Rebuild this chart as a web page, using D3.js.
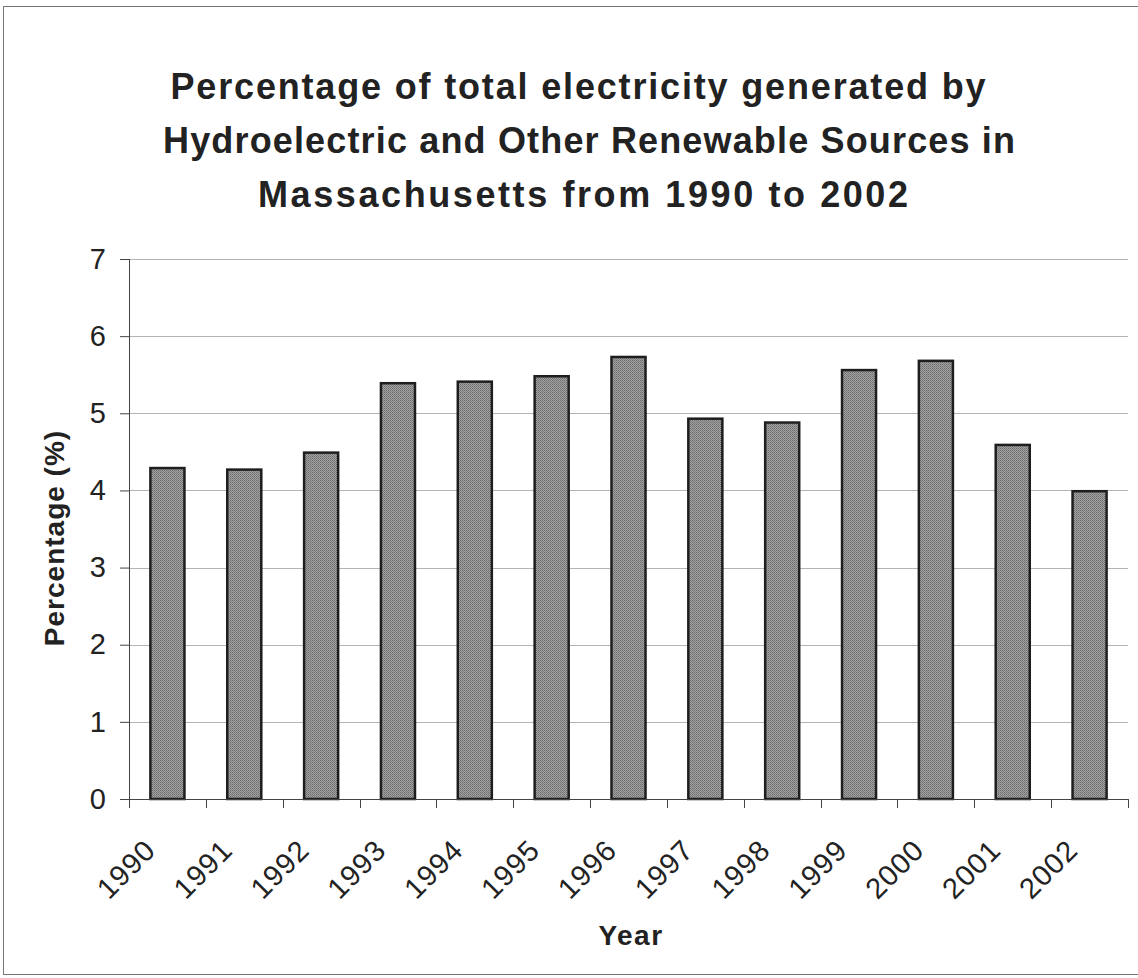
<!DOCTYPE html>
<html>
<head>
<meta charset="utf-8">
<script src="https://cdn.jsdelivr.net/npm/d3@7"></script>
<style>
  html, body { margin: 0; padding: 0; background: #fff; }
  svg { display: block; }
  text { font-family: "Liberation Sans", Arial, sans-serif; fill: #222; }
</style>
</head>
<body>
<script>
// Share of Massachusetts electricity from hydroelectric and other renewables
const years = ["1990", "1991", "1992", "1993", "1994", "1995", "1996",
               "1997", "1998", "1999", "2000", "2001", "2002"];
const percentages = [4.29, 4.27, 4.49, 5.39, 5.41, 5.48, 5.73,
                     4.93, 4.88, 5.56, 5.68, 4.59, 3.99];
const yTicks = [0, 1, 2, 3, 4, 5, 6, 7];
const titleLines = [
  "Percentage of total electricity generated by",
  "Hydroelectric and Other Renewable Sources in",
  "Massachusetts from 1990 to 2002"
];

const W = 1138, H = 978;
const plot = { left: 129, right: 1128, top: 259, bottom: 799 };

const svg = d3.select("body").append("svg")
  .attr("width", W).attr("height", H);

// stippled grey fill for the bars
const defs = svg.append("defs");
const pat = defs.append("pattern")
  .attr("id", "stipple").attr("patternUnits", "userSpaceOnUse")
  .attr("width", 2).attr("height", 2);
pat.append("rect").attr("width", 2).attr("height", 2).attr("fill", "#a2a2a2");
pat.append("rect").attr("width", 1).attr("height", 1).attr("fill", "#6c6c6c");
pat.append("rect").attr("x", 1).attr("y", 1).attr("width", 1).attr("height", 1).attr("fill", "#7e7e7e");

// outer chart border
svg.append("rect")
  .attr("x", 3.5).attr("y", 6.5).attr("width", W).attr("height", 968)
  .attr("fill", "none").attr("stroke", "#777").attr("stroke-width", 1);

const x = d3.scaleBand()
  .domain(years)
  .range([plot.left, plot.right])
  .paddingInner(0.557)
  .paddingOuter(0.557 / 2);

const y = d3.scaleLinear()
  .domain([0, 7])
  .range([plot.bottom, plot.top]);

// horizontal gridlines
svg.append("g")
  .selectAll("line")
  .data(yTicks.filter(d => d > 0))
  .join("line")
  .attr("x1", plot.left).attr("x2", plot.right)
  .attr("y1", d => Math.round(y(d)) + 0.5).attr("y2", d => Math.round(y(d)) + 0.5)
  .attr("stroke", "#b4b4b4").attr("stroke-width", 1);

// bars
svg.append("g")
  .selectAll("rect")
  .data(years.map((yr, i) => ({ yr, v: percentages[i] })))
  .join("rect")
  .attr("x", d => x(d.yr))
  .attr("y", d => y(d.v))
  .attr("width", x.bandwidth())
  .attr("height", d => y(0) - y(d.v))
  .attr("fill", "url(#stipple)")
  .attr("stroke", "#1e1e1e")
  .attr("stroke-width", 2.5);

// y axis
const yAxis = svg.append("g")
  .attr("transform", `translate(${plot.left},0)`)
  .call(d3.axisLeft(y).tickValues(yTicks).tickSize(9).tickPadding(14)
    .tickFormat(d3.format("d")));
yAxis.select(".domain").attr("stroke", "#444").attr("d", `M0.5,${plot.top}V${plot.bottom}`);
yAxis.selectAll(".tick line").attr("stroke", "#444");
yAxis.selectAll(".tick text")
  .attr("font-size", 29).attr("fill", "#222")
  .style("font-family", '"Liberation Sans", Arial, sans-serif');

// x axis: ticks on category boundaries
const boundaries = years.map(d => x(d) - x.step() * x.paddingInner() / 2)
  .concat([plot.right]);
const xAxisG = svg.append("g");
xAxisG.append("line")
  .attr("x1", plot.left).attr("x2", plot.right)
  .attr("y1", plot.bottom + 0.5).attr("y2", plot.bottom + 0.5)
  .attr("stroke", "#444");
xAxisG.selectAll("line.tk")
  .data(boundaries)
  .join("line").attr("class", "tk")
  .attr("x1", d => Math.round(d) + 0.5).attr("x2", d => Math.round(d) + 0.5)
  .attr("y1", plot.bottom).attr("y2", plot.bottom + 9)
  .attr("stroke", "#444");
xAxisG.selectAll("text")
  .data(years)
  .join("text")
  .attr("transform", d => `translate(${x(d) + x.bandwidth() / 2 - 10},852) rotate(-45)`)
  .attr("text-anchor", "end")
  .attr("font-size", 29)
  .attr("letter-spacing", 1)
  .text(d => d);

// axis titles
svg.append("text")
  .attr("x", 631).attr("y", 945)
  .attr("text-anchor", "middle")
  .attr("font-size", 28).attr("font-weight", "bold")
  .attr("letter-spacing", 1.5)
  .text("Year");

svg.append("text")
  .attr("transform", "translate(64,538) rotate(-90)")
  .attr("text-anchor", "middle")
  .attr("font-size", 28).attr("font-weight", "bold")
  .attr("letter-spacing", 1)
  .text("Percentage (%)");

// title, three centred lines with widths set per line
const titleCentres = [578, 589, 583];
const titleWidths = [815, 852, 650];
svg.append("g")
  .selectAll("text")
  .data(titleLines)
  .join("text")
  .attr("x", (d, i) => titleCentres[i])
  .attr("y", (d, i) => 99 + i * 54)
  .attr("text-anchor", "middle")
  .attr("font-size", 36).attr("font-weight", "bold")
  .attr("textLength", (d, i) => titleWidths[i])
  .attr("lengthAdjust", "spacing")
  .text(d => d);
</script>
</body>
</html>
